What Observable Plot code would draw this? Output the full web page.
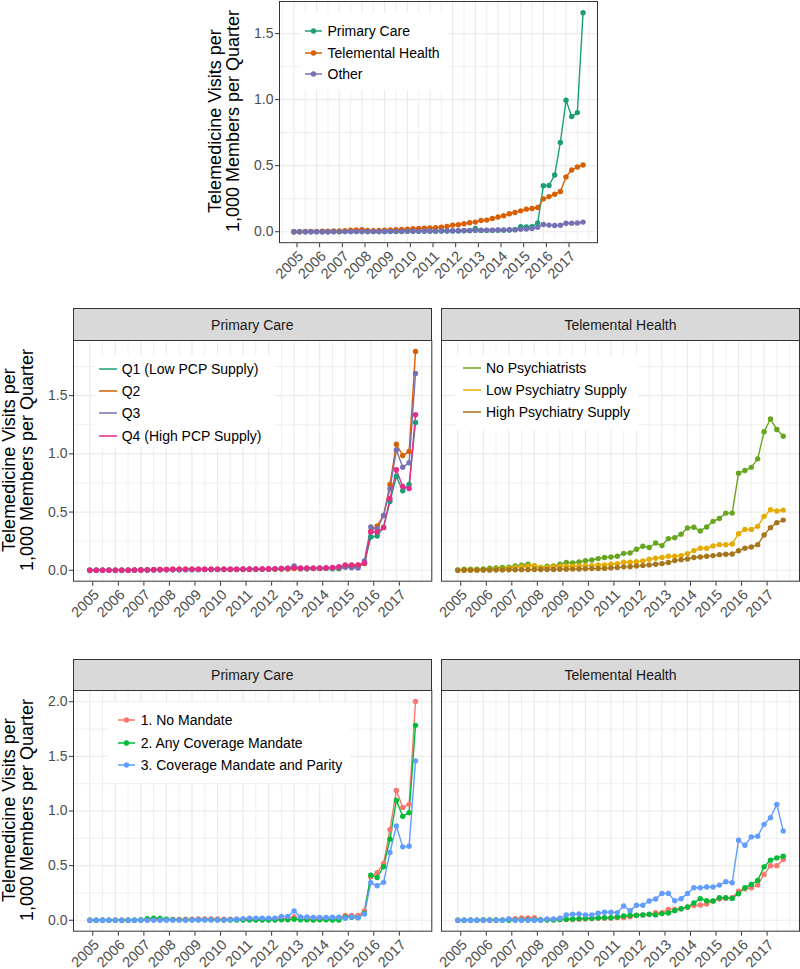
<!DOCTYPE html>
<html>
<head>
<meta charset="utf-8">
<script src="https://cdn.jsdelivr.net/npm/d3@7"></script>
<script src="https://cdn.jsdelivr.net/npm/@observablehq/plot@0.6"></script>
<style>
  html, body { margin: 0; padding: 0; background: #fff; }
  body { font-family: "Liberation Sans", Arial, Helvetica, sans-serif; }
  #chart { position: relative; width: 800px; height: 969px; overflow: hidden; background: #fff; }
  .ytitle { position: absolute; font-size: 18px; line-height: 18px; color: #000; text-align: center;
            white-space: nowrap; transform: rotate(-90deg); transform-origin: center center; }
  .strip { position: absolute; box-sizing: border-box; background: #D9D9D9; border: 1px solid #333;
           font-size: 14px; color: #1A1A1A; display: flex; align-items: center; justify-content: center; }
  .legend { position: absolute; background: #fff; }
  .legend .lab { position: absolute; font-size: 14px; line-height: 16px; color: #000; white-space: nowrap; transform: translateY(-50%); }
  .legend svg { position: absolute; overflow: visible; }
</style>
</head>
<body>
<div id="chart"></div>
<script>
// ---------------- DATA ----------------
const years = [2005, 2006, 2007, 2008, 2009, 2010, 2011, 2012, 2013, 2014, 2015, 2016, 2017];
const quarterOffsets = [0, 0.25, 0.5, 0.75];
const quarters = years.flatMap(y => quarterOffsets.map(q => y + q));
const yAxisTitle = ["Telemedicine Visits per", "1,000 Members per Quarter"];

// Top panel: service type
const topNames = ["Primary Care", "Telemental Health", "Other"];
const topPrimaryCare = [
  0, 0, 0, 0,  0, 0, 0, 0,  0, 0.001, 0.001, 0.001,  0.001, 0.001, 0.001, 0.001,
  0.002, 0.002, 0.002, 0.002,  0.003, 0.003, 0.003, 0.004,  0.004, 0.004, 0.005, 0.005,
  0.006, 0.006, 0.007, 0.008,  0.025, 0.01, 0.01, 0.01,  0.012, 0.012, 0.013, 0.015,
  0.038, 0.037, 0.038, 0.066,  0.349, 0.35, 0.43, 0.676,  0.995, 0.872, 0.902, 1.658];
const topTelemental = [
  0, 0.001, 0.002, 0.003,  0.003, 0.004, 0.004, 0.005,  0.006, 0.008, 0.012, 0.014,
  0.015, 0.01, 0.008, 0.01,  0.012, 0.014, 0.016, 0.018,  0.02, 0.022, 0.025, 0.027,
  0.028, 0.03, 0.035, 0.04,  0.05, 0.053, 0.06, 0.068,  0.073, 0.085, 0.088, 0.1,
  0.111, 0.121, 0.136, 0.146,  0.158, 0.171, 0.176, 0.183,  0.249, 0.266, 0.284, 0.304,
  0.415, 0.467, 0.49, 0.505];
const topOther = [
  0, 0, 0, 0,  0, 0, 0, 0.001,  0.001, 0.001, 0.001, 0.001,  0.002, 0.002, 0.002, 0.002,
  0.002, 0.003, 0.003, 0.003,  0.004, 0.004, 0.004, 0.005,  0.005, 0.006, 0.006, 0.007,
  0.008, 0.008, 0.009, 0.009,  0.01, 0.011, 0.012, 0.012,  0.013, 0.014, 0.015, 0.016,
  0.018, 0.02, 0.024, 0.033,  0.055, 0.05, 0.047, 0.049,  0.064, 0.065, 0.066, 0.073];

// Middle-left: Primary care by PCP supply quartile
const pcpNames = ["Q1 (Low PCP Supply)", "Q2", "Q3", "Q4 (High PCP Supply)"];
const pcpQ1 = [
  0, 0, 0, 0,  0, 0.001, 0.001, 0.001,  0.002, 0.003, 0.004, 0.004,  0.004, 0.004, 0.005, 0.005,
  0.005, 0.005, 0.006, 0.006,  0.006, 0.007, 0.007, 0.007,  0.008, 0.008, 0.008, 0.009,
  0.009, 0.01, 0.011, 0.012,  0.02, 0.012, 0.013, 0.014,  0.015, 0.016, 0.012, 0.013,
  0.03, 0.03, 0.03, 0.057,  0.286, 0.294, 0.37, 0.59,  0.806, 0.683, 0.737, 1.27];
const pcpQ2 = [
  0, 0, 0, 0,  0, 0.001, 0.001, 0.002,  0.003, 0.004, 0.005, 0.006,  0.007, 0.008, 0.009, 0.01,
  0.01, 0.009, 0.009, 0.008,  0.008, 0.007, 0.007, 0.006,  0.006, 0.007, 0.007, 0.008,
  0.008, 0.009, 0.01, 0.011,  0.015, 0.012, 0.013, 0.014,  0.015, 0.016, 0.02, 0.02,
  0.035, 0.04, 0.043, 0.057,  0.335, 0.38, 0.471, 0.737,  1.083, 0.986, 1.02, 1.88];
const pcpQ3 = [
  0, 0, 0, 0,  0, 0, 0.001, 0.001,  0.002, 0.002, 0.003, 0.003,  0.004, 0.004, 0.004, 0.005,
  0.005, 0.006, 0.006, 0.007,  0.007, 0.008, 0.01, 0.008,  0.008, 0.009, 0.009, 0.01,
  0.01, 0.012, 0.015, 0.018,  0.037, 0.015, 0.015, 0.016,  0.017, 0.018, 0.02, 0.022,
  0.025, 0.022, 0.02, 0.08,  0.371, 0.357, 0.47, 0.70,  1.034, 0.886, 0.923, 1.69];
const pcpQ4 = [
  0, 0, 0, 0,  0, 0.001, 0.001, 0.001,  0.002, 0.003, 0.004, 0.006,  0.007, 0.008, 0.008, 0.008,
  0.008, 0.008, 0.009, 0.009,  0.009, 0.01, 0.01, 0.01,  0.011, 0.011, 0.012, 0.012,
  0.013, 0.014, 0.016, 0.018,  0.02, 0.019, 0.019, 0.02,  0.02, 0.022, 0.025, 0.03,
  0.046, 0.046, 0.046, 0.063,  0.329, 0.329, 0.366, 0.614,  0.863, 0.72, 0.703, 1.337];

// Middle-right: Telemental health by psychiatry supply
const psyNames = ["No Psychiatrists", "Low Psychiatry Supply", "High Psychiatry Supply"];
const psyNone = [
  0.003, 0.009, 0.009, 0.009,  0.011, 0.017, 0.02, 0.023,  0.026, 0.037, 0.043, 0.051,
  0.036, 0.025, 0.034, 0.038,  0.051, 0.066, 0.062, 0.071,  0.082, 0.088, 0.1, 0.109,
  0.114, 0.12, 0.145, 0.149,  0.18, 0.206, 0.195, 0.234,  0.212, 0.272, 0.28, 0.31,
  0.363, 0.369, 0.338, 0.372,  0.42, 0.445, 0.491, 0.491,  0.834, 0.857, 0.884, 0.957,
  1.19, 1.3, 1.209, 1.151];
const psyLow = [
  0, 0.001, 0.002, 0.002,  0.003, 0.005, 0.008, 0.01,  0.017, 0.025, 0.03, 0.034,
  0.04, 0.022, 0.025, 0.03,  0.034, 0.034, 0.034, 0.036,  0.04, 0.04, 0.046, 0.046,
  0.051, 0.057, 0.069, 0.069,  0.074, 0.08, 0.094, 0.103,  0.109, 0.12, 0.12, 0.126,
  0.143, 0.169, 0.189, 0.189,  0.209, 0.22, 0.22, 0.226,  0.314, 0.351, 0.351, 0.377,
  0.463, 0.52, 0.509, 0.517];
const psyHigh = [
  0, 0, 0.001, 0.001,  0.002, 0.002, 0.003, 0.003,  0.004, 0.004, 0.005, 0.005,
  0.006, 0.006, 0.007, 0.007,  0.008, 0.009, 0.01, 0.011,  0.013, 0.014, 0.015, 0.016,
  0.02, 0.023, 0.029, 0.031,  0.037, 0.04, 0.046, 0.051,  0.057, 0.066, 0.083, 0.091,
  0.097, 0.109, 0.114, 0.12,  0.126, 0.134, 0.137, 0.14,  0.168, 0.189, 0.2, 0.22,
  0.303, 0.366, 0.409, 0.431];

// Bottom: by state telemedicine mandate
const mandateNames = ["1. No Mandate", "2. Any Coverage Mandate", "3. Coverage Mandate and Parity"];
const pcNoMandate = [
  0, 0, 0, 0,  0, 0, 0, 0,  0.002, 0.003, 0.004, 0.005,  0.006, 0.007, 0.008, 0.01,
  0.01, 0.011, 0.012, 0.012,  0.011, 0.01, 0.01, 0.009,  0.008, 0.008, 0.008, 0.009,
  0.01, 0.01, 0.012, 0.015,  0.03, 0.012, 0.01, 0.01,  0.012, 0.012, 0.015, 0.024,
  0.043, 0.043, 0.043, 0.085,  0.398, 0.435, 0.52, 0.83,  1.188, 1.033, 1.061, 2.003];
const pcAnyMandate = [
  0, 0, 0, 0,  0, 0, 0, 0,  0.003, 0.015, 0.02, 0.016,  0.01, 0.006, 0.004, 0.004,
  0.004, 0.004, 0.004, 0.004,  0.004, 0.003, 0.003, 0.003,  0.002, 0.002, 0.002, 0.002,
  0.003, 0.003, 0.004, 0.004,  0.01, 0.004, 0.005, 0.003,  0.004, 0.005, 0.003, 0.003,
  0.027, 0.027, 0.024, 0.064,  0.413, 0.392, 0.49, 0.742,  1.097, 0.951, 0.985, 1.784];
const pcParity = [
  0, 0, 0, 0,  0, 0, 0, 0,  0, 0, 0, 0,  0, 0, 0.001, 0.001,
  0.002, 0.002, 0.002, 0.003,  0.003, 0.003, 0.004, 0.01,  0.015, 0.02, 0.02, 0.02,
  0.02, 0.02, 0.035, 0.035,  0.085, 0.03, 0.03, 0.025,  0.025, 0.025, 0.028, 0.027,
  0.018, 0.033, 0.024, 0.058,  0.343, 0.316, 0.347, 0.62,  0.863, 0.672, 0.678, 1.459];
const thNoMandate = [
  0, 0, 0, 0,  0, 0, 0, 0.003,  0.009, 0.015, 0.021, 0.021,  0.024, 0.006, 0.006, 0.006,
  0.006, 0.006, 0.006, 0.009,  0.012, 0.015, 0.018, 0.018,  0.018, 0.024, 0.024, 0.033,
  0.043, 0.049, 0.052, 0.07,  0.07, 0.1, 0.1, 0.106,  0.119, 0.134, 0.14, 0.149,
  0.176, 0.195, 0.2, 0.207,  0.267, 0.289, 0.298, 0.322,  0.42, 0.5, 0.5, 0.556];
const thAnyMandate = [
  0, 0, 0, 0,  0.002, 0.003, 0.003, 0,  0, 0.002, 0.002, 0.002,  0.003, 0.003, 0.002, 0.003,
  0.006, 0.009, 0.012, 0.015,  0.018, 0.018, 0.021, 0.024,  0.024, 0.03, 0.04, 0.046,
  0.046, 0.049, 0.055, 0.049,  0.061, 0.067, 0.088, 0.106,  0.122, 0.158, 0.198, 0.179,
  0.176, 0.207, 0.207, 0.2,  0.243, 0.298, 0.328, 0.365,  0.489, 0.55, 0.571, 0.587];
const thParity = [
  0, 0, 0, 0,  0, 0, 0, 0,  0.012, 0, 0, 0,  0, 0, 0.012, 0.012,
  0.018, 0.049, 0.055, 0.058,  0.049, 0.049, 0.064, 0.073,  0.073, 0.07, 0.131, 0.088,
  0.137, 0.137, 0.176, 0.195,  0.246, 0.246, 0.179, 0.198,  0.246, 0.298, 0.298, 0.304,
  0.304, 0.322, 0.353, 0.343,  0.733, 0.687, 0.763, 0.769,  0.878, 0.939, 1.06, 0.818];

// Palettes
const dark2 = ["#1B9E77", "#D95F02", "#7570B3", "#E7298A", "#66A61E", "#E6AB02", "#A6761D"];
const hue3 = ["#F8766D", "#00BA38", "#619CFF"];

// Axis ticks
const xTicks = years;
const xMinorTicks = [2004.5, ...years.map(y => y + 0.5), 2018];
const yTicksTop = [0, 0.5, 1.0, 1.5];
const yMinorTop = [0.25, 0.75, 1.25];
const yTicksMid = [0, 0.5, 1.0, 1.5];
const yMinorMid = [0.25, 0.75, 1.25, 1.75];
const yTicksBot = [0, 0.5, 1.0, 1.5, 2.0];
const yMinorBot = [0.25, 0.75, 1.25, 1.75];

// ---------------- DRAWING ----------------
const FONT = '"Liberation Sans", Arial, Helvetica, sans-serif';
const chart = document.getElementById("chart");
const X_DOMAIN = [2004.3625, 2018.3875];

function place(el, left, top) {
  el.style.position = "absolute";
  el.style.left = left + "px";
  el.style.top = top + "px";
  chart.appendChild(el);
}

function makePanel({frame, yDomain, yTicks, yMinor, series, colors, showY}) {
  const [x0, x1, y0, y1] = frame;
  const mL = 70, mR = 1, mT = 1, mB = 55;
  const names = series.map(s => s.name);
  const data = series.flatMap(s => s.values.map((v, i) => ({t: quarters[i], v, name: s.name})));
  const gridStyle = {stroke: "#EBEBEB", strokeOpacity: 1};
  const marks = [
    Plot.gridY({ticks: yMinor, ...gridStyle, strokeWidth: 0.8}),
    Plot.gridX({ticks: xMinorTicks, ...gridStyle, strokeWidth: 0.8}),
    Plot.gridY({ticks: yTicks, ...gridStyle, strokeWidth: 1.2}),
    Plot.gridX({ticks: xTicks, ...gridStyle, strokeWidth: 1.2}),
    Plot.line(data, {x: "t", y: "v", z: "name", stroke: "name", strokeWidth: 1.4}),
    Plot.dot(data, {x: "t", y: "v", fill: "name", r: 2.7, stroke: null}),
    Plot.frame({stroke: "#333", strokeWidth: 1}),
    Plot.axisX({ticks: xTicks, tickFormat: d => String(d), tickRotate: -45, textAnchor: "end",
                lineAnchor: "top", tickSize: 4, tickPadding: 2, dx: 3, dy: 1, fontSize: 14.5,
                stroke: "#333", fill: "#4D4D4D", label: null})
  ];
  if (showY) {
    marks.push(Plot.axisY({ticks: yTicks, tickFormat: d3.format(".1f"), tickSize: 4, tickPadding: 2,
                           stroke: "#333", fill: "#4D4D4D", label: null}));
  }
  const svg = Plot.plot({
    width: (x1 - x0) + mL + mR,
    height: (y1 - y0) + mT + mB,
    marginLeft: mL, marginRight: mR, marginTop: mT, marginBottom: mB,
    style: {fontFamily: FONT, fontSize: "14px", background: "transparent", overflow: "visible"},
    x: {domain: X_DOMAIN, label: null},
    y: {domain: yDomain, label: null, axis: showY ? undefined : null},
    color: {domain: names, range: colors},
    marks
  });
  place(svg, x0 - mL, y0 - mT);
}

function yTitle(cx, cy) {
  const d = document.createElement("div");
  d.className = "ytitle";
  d.innerHTML = yAxisTitle.join("<br>");
  const W = 280, H = 36;
  d.style.width = W + "px";
  d.style.height = H + "px";
  d.style.left = (cx - W / 2) + "px";
  d.style.top = (cy - H / 2) + "px";
  chart.appendChild(d);
}

function strip(text, x0, x1, y0, y1) {
  const d = document.createElement("div");
  d.className = "strip";
  d.textContent = text;
  d.style.left = x0 + "px";
  d.style.top = y0 + "px";
  d.style.width = (x1 - x0 + 1) + "px";
  d.style.height = (y1 - y0 + 1) + "px";
  chart.appendChild(d);
}

function legend({box, names, colors, dots, keyX0, keyX1, labelX, rowY}) {
  const [left, top, w, h] = box;
  const d = document.createElement("div");
  d.className = "legend";
  d.style.left = left + "px"; d.style.top = top + "px";
  d.style.width = w + "px"; d.style.height = h + "px";
  names.forEach((name, i) => {
    const y = rowY[i];
    const ns = "http://www.w3.org/2000/svg";
    const s = document.createElementNS(ns, "svg");
    s.setAttribute("width", keyX1 - keyX0 + 4);
    s.setAttribute("height", 10);
    s.style.left = (keyX0 - 2) + "px";
    s.style.top = (y - 5) + "px";
    const ln = document.createElementNS(ns, "line");
    ln.setAttribute("x1", 2); ln.setAttribute("x2", keyX1 - keyX0 + 2);
    ln.setAttribute("y1", 5); ln.setAttribute("y2", 5);
    ln.setAttribute("stroke", colors[i]); ln.setAttribute("stroke-width", 1.5);
    s.appendChild(ln);
    if (dots) {
      const c = document.createElementNS(ns, "circle");
      c.setAttribute("cx", (keyX1 - keyX0) / 2 + 2); c.setAttribute("cy", 5);
      c.setAttribute("r", 2.7); c.setAttribute("fill", colors[i]);
      s.appendChild(c);
    }
    d.appendChild(s);
    const lab = document.createElement("div");
    lab.className = "lab";
    lab.textContent = name;
    lab.style.left = labelX + "px";
    lab.style.top = y + "px";
    d.appendChild(lab);
  });
  chart.appendChild(d);
}

// ---- Top panel ----
makePanel({
  frame: [279, 597, 0.5, 241.7],
  yDomain: [-0.083, 1.743], yTicks: yTicksTop, yMinor: yMinorTop,
  series: [{name: topNames[0], values: topPrimaryCare}, {name: topNames[1], values: topTelemental}, {name: topNames[2], values: topOther}],
  colors: dark2.slice(0, 3), showY: true
});
yTitle(224, 121);
legend({box: [300, 13, 148, 77], names: topNames, colors: dark2.slice(0, 3), dots: true,
        keyX0: 5, keyX1: 22, labelX: 27.5, rowY: [18, 39.5, 61.3]});

// ---- Middle row ----
const midDomain = [-0.094, 1.974];
makePanel({
  frame: [72.7, 431, 340, 580.7],
  yDomain: midDomain, yTicks: yTicksMid, yMinor: yMinorMid,
  series: [{name: pcpNames[0], values: pcpQ1}, {name: pcpNames[1], values: pcpQ2}, {name: pcpNames[2], values: pcpQ3}, {name: pcpNames[3], values: pcpQ4}],
  colors: dark2.slice(0, 4), showY: true
});
makePanel({
  frame: [441, 799, 340, 580.7],
  yDomain: midDomain, yTicks: yTicksMid, yMinor: yMinorMid,
  series: [{name: psyNames[0], values: psyNone}, {name: psyNames[1], values: psyLow}, {name: psyNames[2], values: psyHigh}],
  colors: dark2.slice(4, 7), showY: false
});
strip("Primary Care", 72.7, 431, 308.3, 340);
strip("Telemental Health", 441, 799, 308.3, 340);
yTitle(17.5, 460);
legend({box: [95, 355, 180, 92], names: pcpNames, colors: dark2.slice(0, 4), dots: false,
        keyX0: 4, keyX1: 22, labelX: 26.7, rowY: [14.3, 36.2, 58.3, 80.5]});
legend({box: [455, 355, 183, 75], names: psyNames, colors: dark2.slice(4, 7), dots: false,
        keyX0: 8, keyX1: 26, labelX: 31, rowY: [12.7, 35, 57.3]});

// ---- Bottom row ----
const botDomain = [-0.1, 2.103];
makePanel({
  frame: [72.7, 431, 690, 930.7],
  yDomain: botDomain, yTicks: yTicksBot, yMinor: yMinorBot,
  series: [{name: mandateNames[0], values: pcNoMandate}, {name: mandateNames[1], values: pcAnyMandate}, {name: mandateNames[2], values: pcParity}],
  colors: hue3, showY: true
});
makePanel({
  frame: [441, 799, 690, 930.7],
  yDomain: botDomain, yTicks: yTicksBot, yMinor: yMinorBot,
  series: [{name: mandateNames[0], values: thNoMandate}, {name: mandateNames[1], values: thAnyMandate}, {name: mandateNames[2], values: thParity}],
  colors: hue3, showY: false
});
strip("Primary Care", 72.7, 431, 659, 690);
strip("Telemental Health", 441, 799, 659, 690);
yTitle(17.5, 810);
legend({box: [108, 702, 242, 81], names: mandateNames, colors: hue3, dots: true,
        keyX0: 10, keyX1: 27, labelX: 32.7, rowY: [18.3, 41, 63.3]});
</script>
</body>
</html>
